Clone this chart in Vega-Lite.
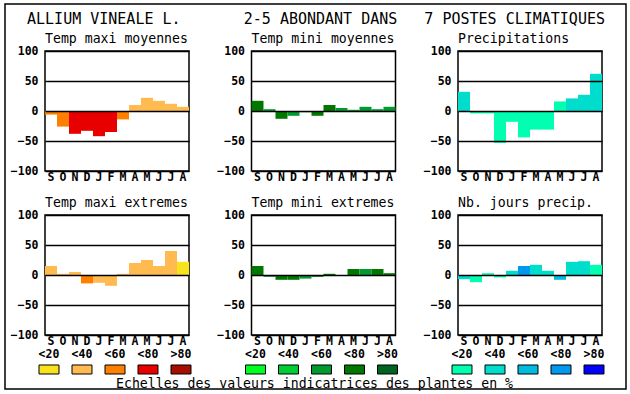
{
  "$schema": "https://vega.github.io/schema/vega-lite/v6.json",
  "background": "white",
  "padding": {"left": 5, "top": 4, "right": 4, "bottom": 4},
  "config": {
    "group": {"stroke": "black", "strokeWidth": 1.5},
    "width": 621,
    "height": 385,
    "font": "DejaVu Sans Mono",
    "view": {"stroke": "black", "strokeWidth": 1.5},
    "axis": {"labelFont": "DejaVu Sans Mono", "labelFontWeight": "bold", "labelFontSize": 11.5, "labelColor": "black", "domain": false, "ticks": false},
    "title": {"font": "DejaVu Sans Mono", "fontSize": 13.2, "fontWeight": "normal", "anchor": "start", "frame": "group", "color": "black", "offset": -1},
    "text": {"font": "DejaVu Sans Mono", "color": "black"}
  },
  "datasets": {
    "tmaxmoy": [
      {"m": "Sep", "v": -6, "c": "<60"}, {"m": "Oct", "v": -26, "c": "<60"}, {"m": "Nov", "v": -38, "c": "<80"},
      {"m": "Dec", "v": -33, "c": "<80"}, {"m": "Jan", "v": -42, "c": "<80"}, {"m": "Feb", "v": -35, "c": "<80"},
      {"m": "Mar", "v": -14, "c": "<60"}, {"m": "Apr", "v": 10, "c": "<40"}, {"m": "May", "v": 22, "c": "<40"},
      {"m": "Jun", "v": 17, "c": "<40"}, {"m": "Jul", "v": 12, "c": "<40"}, {"m": "Aug", "v": 7, "c": "<40"}
    ],
    "tminmoy": [
      {"m": "Sep", "v": 17, "c": "<80"}, {"m": "Oct", "v": 3, "c": "<60"}, {"m": "Nov", "v": -13, "c": "<80"},
      {"m": "Dec", "v": -8, "c": "<60"}, {"m": "Jan", "v": -2, "c": "<60"}, {"m": "Feb", "v": -8, "c": "<80"},
      {"m": "Mar", "v": 10, "c": "<80"}, {"m": "Apr", "v": 5, "c": "<60"}, {"m": "May", "v": 2, "c": "<60"},
      {"m": "Jun", "v": 7, "c": "<60"}, {"m": "Jul", "v": 3, "c": "<60"}, {"m": "Aug", "v": 7, "c": "<60"}
    ],
    "precip": [
      {"m": "Sep", "v": 32, "c": "<40"}, {"m": "Oct", "v": -4, "c": "<20"}, {"m": "Nov", "v": -4, "c": "<20"},
      {"m": "Dec", "v": -53, "c": "<20"}, {"m": "Jan", "v": -18, "c": "<20"}, {"m": "Feb", "v": -44, "c": "<20"},
      {"m": "Mar", "v": -31, "c": "<20"}, {"m": "Apr", "v": -31, "c": "<20"}, {"m": "May", "v": 16, "c": "<20"},
      {"m": "Jun", "v": 21, "c": "<40"}, {"m": "Jul", "v": 27, "c": "<40"}, {"m": "Aug", "v": 62, "c": "<40"}
    ],
    "tmaxext": [
      {"m": "Sep", "v": 15, "c": "<40"}, {"m": "Oct", "v": 2, "c": "<40"}, {"m": "Nov", "v": 5, "c": "<40"},
      {"m": "Dec", "v": -14, "c": "<60"}, {"m": "Jan", "v": -13, "c": "<40"}, {"m": "Feb", "v": -18, "c": "<40"},
      {"m": "Mar", "v": 2, "c": "<40"}, {"m": "Apr", "v": 20, "c": "<40"}, {"m": "May", "v": 25, "c": "<40"},
      {"m": "Jun", "v": 15, "c": "<40"}, {"m": "Jul", "v": 40, "c": "<40"}, {"m": "Aug", "v": 22, "c": "<20"}
    ],
    "tminext": [
      {"m": "Sep", "v": 15, "c": "<80"}, {"m": "Oct", "v": -3, "c": "<60"}, {"m": "Nov", "v": -8, "c": "<80"},
      {"m": "Dec", "v": -8, "c": "<80"}, {"m": "Jan", "v": -6, "c": "<60"}, {"m": "Feb", "v": -3, "c": "<80"},
      {"m": "Mar", "v": 2, "c": "<80"}, {"m": "Apr", "v": 0, "c": "<60"}, {"m": "May", "v": 10, "c": "<80"},
      {"m": "Jun", "v": 10, "c": "<60"}, {"m": "Jul", "v": 10, "c": "<80"}, {"m": "Aug", "v": 3, "c": "<80"}
    ],
    "njours": [
      {"m": "Sep", "v": -7, "c": "<40"}, {"m": "Oct", "v": -12, "c": "<20"}, {"m": "Nov", "v": 3, "c": "<20"},
      {"m": "Dec", "v": -4, "c": "<20"}, {"m": "Jan", "v": 7, "c": "<40"}, {"m": "Feb", "v": 15, "c": "<80"},
      {"m": "Mar", "v": 17, "c": "<40"}, {"m": "Apr", "v": 7, "c": "<40"}, {"m": "May", "v": -8, "c": "<60"},
      {"m": "Jun", "v": 22, "c": "<40"}, {"m": "Jul", "v": 23, "c": "<40"}, {"m": "Aug", "v": 17, "c": "<20"}
    ],
    "classes": [{"k": "<20"}, {"k": "<40"}, {"k": "<60"}, {"k": "<80"}, {"k": ">80"}],
    "header": [{"t": "ALLIUM VINEALE L.\u00a0\u00a0\u00a0\u00a0\u00a0\u00a0\u00a02-5 ABONDANT DANS\u00a0\u00a0\u00a07 POSTES CLIMATIQUES"}]
  },
  "spacing": 3,
  "hconcat": [
    {
      "width": 1, "height": 1, "view": {"stroke": null},
      "data": {"values": [{"a": 0}]},
      "mark": {"type": "point", "opacity": 0, "size": 0}
    },
    {
      "spacing": -1,
      "resolve": {"scale": {"color": "independent"}},
      "vconcat": [
        {
          "width": 542, "height": 28, "view": {"stroke": null},
          "data": {"name": "header"},
          "mark": {"type": "text", "font": "DejaVu Sans Mono", "fontSize": 15, "color": "black", "dy": 0.5},
          "encoding": {"text": {"field": "t"}}
        },
        {
          "columns": 3,
          "bounds": "flush",
          "spacing": {"row": 44, "column": 62.5},
          "resolve": {"scale": {"color": "independent"}},
          "concat": [
            {
              "width": 144, "height": 120, "title": "Temp maxi moyennes",
              "data": {"name": "tmaxmoy"}, "mark": "bar",
              "encoding": {
                "x": {"field": "m", "type": "ordinal", "sort": null, "title": null, "scale": {"domain": ["Sep","Oct","Nov","Dec","Jan","Feb","Mar","Apr","May","Jun","Jul","Aug"], "paddingInner": 0, "paddingOuter": 0}, "axis": {"labelExpr": "substring(datum.label, 0, 1)", "labelAngle": 0, "labelPadding": 0}},
                "y": {"field": "v", "type": "quantitative", "title": null, "scale": {"domain": [-100, 100], "nice": false, "zero": false}, "axis": {"values": [-100, -50, 0, 50, 100], "grid": true, "gridColor": "black", "gridOpacity": 1, "gridWidth": 1.5, "labelPadding": 7, "zindex": 1}},
                "y2": {"datum": 0},
                "color": {"field": "c", "type": "nominal", "legend": null, "scale": {"domain": ["<20","<40","<60","<80",">80"], "range": ["#f8e21c","#ffba50","#ff8000","#e80000","#a80e00"]}}
              }
            },
            {
              "width": 144, "height": 120, "title": "Temp mini moyennes",
              "data": {"name": "tminmoy"}, "mark": "bar",
              "encoding": {
                "x": {"field": "m", "type": "ordinal", "sort": null, "title": null, "scale": {"domain": ["Sep","Oct","Nov","Dec","Jan","Feb","Mar","Apr","May","Jun","Jul","Aug"], "paddingInner": 0, "paddingOuter": 0}, "axis": {"labelExpr": "substring(datum.label, 0, 1)", "labelAngle": 0, "labelPadding": 0}},
                "y": {"field": "v", "type": "quantitative", "title": null, "scale": {"domain": [-100, 100], "nice": false, "zero": false}, "axis": {"values": [-100, -50, 0, 50, 100], "grid": true, "gridColor": "black", "gridOpacity": 1, "gridWidth": 1.5, "labelPadding": 7, "zindex": 1}},
                "y2": {"datum": 0},
                "color": {"field": "c", "type": "nominal", "legend": null, "scale": {"domain": ["<20","<40","<60","<80",">80"], "range": ["#00ff20","#00cc33","#009a2e","#007800","#006420"]}}
              }
            },
            {
              "width": 144, "height": 120, "title": "Precipitations",
              "data": {"name": "precip"}, "mark": "bar",
              "encoding": {
                "x": {"field": "m", "type": "ordinal", "sort": null, "title": null, "scale": {"domain": ["Sep","Oct","Nov","Dec","Jan","Feb","Mar","Apr","May","Jun","Jul","Aug"], "paddingInner": 0, "paddingOuter": 0}, "axis": {"labelExpr": "substring(datum.label, 0, 1)", "labelAngle": 0, "labelPadding": 0}},
                "y": {"field": "v", "type": "quantitative", "title": null, "scale": {"domain": [-100, 100], "nice": false, "zero": false}, "axis": {"values": [-100, -50, 0, 50, 100], "grid": true, "gridColor": "black", "gridOpacity": 1, "gridWidth": 1.5, "labelPadding": 7, "zindex": 1}},
                "y2": {"datum": 0},
                "color": {"field": "c", "type": "nominal", "legend": null, "scale": {"domain": ["<20","<40","<60","<80",">80"], "range": ["#00ffb0","#00ddcc","#00bbdd","#0099ee","#0000ff"]}}
              }
            },
            {
              "width": 144, "height": 120, "title": "Temp maxi extremes",
              "data": {"name": "tmaxext"}, "mark": "bar",
              "encoding": {
                "x": {"field": "m", "type": "ordinal", "sort": null, "title": null, "scale": {"domain": ["Sep","Oct","Nov","Dec","Jan","Feb","Mar","Apr","May","Jun","Jul","Aug"], "paddingInner": 0, "paddingOuter": 0}, "axis": {"labelExpr": "substring(datum.label, 0, 1)", "labelAngle": 0, "labelPadding": 0}},
                "y": {"field": "v", "type": "quantitative", "title": null, "scale": {"domain": [-100, 100], "nice": false, "zero": false}, "axis": {"values": [-100, -50, 0, 50, 100], "grid": true, "gridColor": "black", "gridOpacity": 1, "gridWidth": 1.5, "labelPadding": 7, "zindex": 1}},
                "y2": {"datum": 0},
                "color": {"field": "c", "type": "nominal", "legend": null, "scale": {"domain": ["<20","<40","<60","<80",">80"], "range": ["#f8e21c","#ffba50","#ff8000","#e80000","#a80e00"]}}
              }
            },
            {
              "width": 144, "height": 120, "title": "Temp mini extremes",
              "data": {"name": "tminext"}, "mark": "bar",
              "encoding": {
                "x": {"field": "m", "type": "ordinal", "sort": null, "title": null, "scale": {"domain": ["Sep","Oct","Nov","Dec","Jan","Feb","Mar","Apr","May","Jun","Jul","Aug"], "paddingInner": 0, "paddingOuter": 0}, "axis": {"labelExpr": "substring(datum.label, 0, 1)", "labelAngle": 0, "labelPadding": 0}},
                "y": {"field": "v", "type": "quantitative", "title": null, "scale": {"domain": [-100, 100], "nice": false, "zero": false}, "axis": {"values": [-100, -50, 0, 50, 100], "grid": true, "gridColor": "black", "gridOpacity": 1, "gridWidth": 1.5, "labelPadding": 7, "zindex": 1}},
                "y2": {"datum": 0},
                "color": {"field": "c", "type": "nominal", "legend": null, "scale": {"domain": ["<20","<40","<60","<80",">80"], "range": ["#00ff20","#00cc33","#009a2e","#007800","#006420"]}}
              }
            },
            {
              "width": 144, "height": 120, "title": "Nb. jours precip.",
              "data": {"name": "njours"}, "mark": "bar",
              "encoding": {
                "x": {"field": "m", "type": "ordinal", "sort": null, "title": null, "scale": {"domain": ["Sep","Oct","Nov","Dec","Jan","Feb","Mar","Apr","May","Jun","Jul","Aug"], "paddingInner": 0, "paddingOuter": 0}, "axis": {"labelExpr": "substring(datum.label, 0, 1)", "labelAngle": 0, "labelPadding": 0}},
                "y": {"field": "v", "type": "quantitative", "title": null, "scale": {"domain": [-100, 100], "nice": false, "zero": false}, "axis": {"values": [-100, -50, 0, 50, 100], "grid": true, "gridColor": "black", "gridOpacity": 1, "gridWidth": 1.5, "labelPadding": 7, "zindex": 1}},
                "y2": {"datum": 0},
                "color": {"field": "c", "type": "nominal", "legend": null, "scale": {"domain": ["<20","<40","<60","<80",">80"], "range": ["#00ffb0","#00ddcc","#00bbdd","#0099ee","#0000ff"]}}
              }
            }
          ]
        },
        {
          "bounds": "flush",
          "spacing": 62.5,
          "resolve": {"scale": {"color": "independent"}},
          "title": {"text": "Echelles des valeurs indicatrices des plantes en %", "orient": "bottom", "anchor": "middle", "frame": "bounds", "offset": 3, "dx": -7, "fontSize": 13.2, "baseline": "top"},
          "hconcat": [
            {
              "width": 144, "height": 26, "view": {"stroke": null},
              "data": {"name": "classes"},
              "encoding": {"x": {"field": "k", "type": "nominal", "sort": null, "axis": null, "scale": {"domain": ["<20","<40","<60","<80",">80"], "range": [-12.5, 152.5], "paddingInner": 0.394, "paddingOuter": 0.197}}},
              "layer": [
                {"mark": {"type": "rect", "stroke": "black", "strokeWidth": 1},
                 "encoding": {"y": {"datum": "b", "type": "nominal", "axis": null, "scale": {"domain": ["t","b"], "paddingInner": 0.47, "paddingOuter": 0}},
                              "color": {"field": "k", "type": "nominal", "legend": null, "scale": {"domain": ["<20","<40","<60","<80",">80"], "range": ["#f8e21c","#ffba50","#ff8000","#e80000","#a80e00"]}}}},
                {"mark": {"type": "text", "fontWeight": "bold", "fontSize": 11.5, "dy": 2, "color": "black"},
                 "encoding": {"y": {"datum": "t", "type": "nominal"}, "text": {"field": "k"}}}
              ]
            },
            {
              "width": 144, "height": 26, "view": {"stroke": null},
              "data": {"name": "classes"},
              "encoding": {"x": {"field": "k", "type": "nominal", "sort": null, "axis": null, "scale": {"domain": ["<20","<40","<60","<80",">80"], "range": [-12.5, 152.5], "paddingInner": 0.394, "paddingOuter": 0.197}}},
              "layer": [
                {"mark": {"type": "rect", "stroke": "black", "strokeWidth": 1},
                 "encoding": {"y": {"datum": "b", "type": "nominal", "axis": null, "scale": {"domain": ["t","b"], "paddingInner": 0.47, "paddingOuter": 0}},
                              "color": {"field": "k", "type": "nominal", "legend": null, "scale": {"domain": ["<20","<40","<60","<80",">80"], "range": ["#00ff20","#00cc33","#009a2e","#007800","#006420"]}}}},
                {"mark": {"type": "text", "fontWeight": "bold", "fontSize": 11.5, "dy": 2, "color": "black"},
                 "encoding": {"y": {"datum": "t", "type": "nominal"}, "text": {"field": "k"}}}
              ]
            },
            {
              "width": 144, "height": 26, "view": {"stroke": null},
              "data": {"name": "classes"},
              "encoding": {"x": {"field": "k", "type": "nominal", "sort": null, "axis": null, "scale": {"domain": ["<20","<40","<60","<80",">80"], "range": [-12.5, 152.5], "paddingInner": 0.394, "paddingOuter": 0.197}}},
              "layer": [
                {"mark": {"type": "rect", "stroke": "black", "strokeWidth": 1},
                 "encoding": {"y": {"datum": "b", "type": "nominal", "axis": null, "scale": {"domain": ["t","b"], "paddingInner": 0.47, "paddingOuter": 0}},
                              "color": {"field": "k", "type": "nominal", "legend": null, "scale": {"domain": ["<20","<40","<60","<80",">80"], "range": ["#00ffb0","#00ddcc","#00bbdd","#0099ee","#0000ff"]}}}},
                {"mark": {"type": "text", "fontWeight": "bold", "fontSize": 11.5, "dy": 2, "color": "black"},
                 "encoding": {"y": {"datum": "t", "type": "nominal"}, "text": {"field": "k"}}}
              ]
            }
          ]
        }
      ]
    }
  ]
}
